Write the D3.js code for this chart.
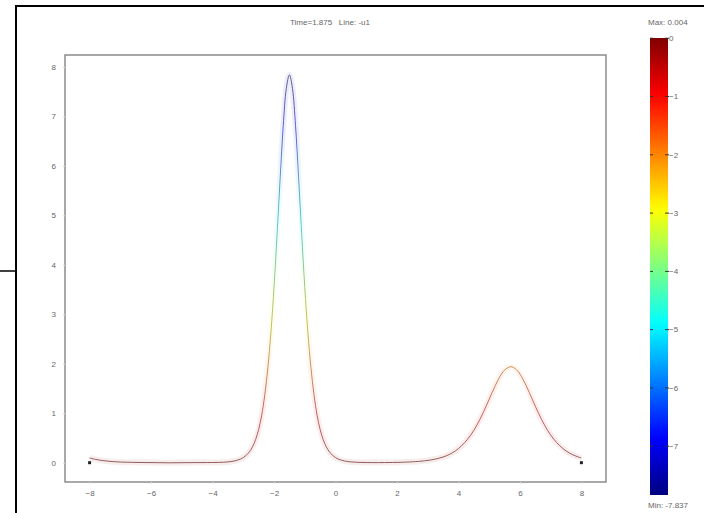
<!DOCTYPE html>
<html>
<head>
<meta charset="utf-8">
<script src="https://cdn.jsdelivr.net/npm/d3@7"></script>
<style>
  html, body { margin: 0; padding: 0; background: #fff; }
  svg { display: block; font-family: "Liberation Sans", Arial, sans-serif; }
</style>
</head>
<body>
<svg id="chart" width="704" height="513"></svg>
<script>
// ---- data ----
const xValues = [-8.0,-7.8,-7.6,-7.4,-7.2,-7.0,-6.6,-6.2,-5.8,-5.4,-5.0,-4.6,-4.2,-3.8,-3.5,-3.3,-3.1,-3.0,-2.9,-2.8,-2.7,-2.6,-2.5,-2.4,-2.3,-2.2,-2.1,-2.0,-1.9,-1.8,-1.7,-1.6,-1.5,-1.4,-1.3,-1.2,-1.1,-1.0,-0.9,-0.8,-0.7,-0.6,-0.5,-0.4,-0.3,-0.2,-0.1,0.0,0.1,0.3,0.5,0.8,1.2,1.6,2.1,2.5,2.7,2.9,3.1,3.3,3.5,3.7,3.9,4.1,4.3,4.5,4.7,4.9,5.1,5.3,5.5,5.7,5.9,6.1,6.3,6.5,6.7,6.9,7.1,7.3,7.5,7.7,7.9,8.0];
const uValues = [0.096,0.066,0.045,0.031,0.021,0.014,0.007,0.003,0.001,-0.002,0.000,0.002,0.003,0.006,0.016,0.034,0.071,0.104,0.152,0.221,0.321,0.466,0.671,0.962,1.377,1.926,2.644,3.549,4.618,5.756,6.810,7.564,7.837,7.564,6.810,5.756,4.618,3.549,2.644,1.926,1.377,0.962,0.671,0.466,0.321,0.221,0.152,0.104,0.071,0.034,0.016,0.006,0.002,0.003,0.008,0.018,0.026,0.038,0.055,0.080,0.115,0.166,0.238,0.341,0.477,0.654,0.878,1.143,1.424,1.685,1.872,1.940,1.872,1.685,1.424,1.143,0.878,0.654,0.477,0.341,0.238,0.166,0.115,0.096];
const xTicks = [-8,-6,-4,-2,0,2,4,6,8];
const yTicks = [0,1,2,3,4,5,6,7,8];
const cbTicks = [0,-1,-2,-3,-4,-5,-6,-7];
const cbMax = 0.004, cbMin = -7.837;
const endMarkers = [[-8,0],[8,0]];
const titleText = "Time=1.875   Line: -u1";

// ---- setup ----
const svg = d3.select("#chart");
const x = d3.scaleLinear().domain([-8.8, 8.8]).range([65, 606]);
const y = d3.scaleLinear().domain([-0.39, 8.24]).range([482, 55]);
const cb = d3.scaleLinear().domain([cbMax, cbMin]).range([38, 495]);

// jet colormap
function jet(t) {
  const r = Math.max(0, Math.min(1, 1.5 - Math.abs(4*t - 3)));
  const g = Math.max(0, Math.min(1, 1.5 - Math.abs(4*t - 2)));
  const b = Math.max(0, Math.min(1, 1.5 - Math.abs(4*t - 1)));
  return d3.rgb(r*255, g*255, b*255);
}
const tOf = v => (v - cbMin) / (cbMax - cbMin);

// outer window frame
svg.append("line").attr("x1", 16).attr("x2", 704).attr("y1", 6).attr("y2", 6)
  .attr("stroke", "#000").attr("stroke-width", 2);
svg.append("line").attr("x1", 16).attr("x2", 16).attr("y1", 5).attr("y2", 513)
  .attr("stroke", "#000").attr("stroke-width", 2);
svg.append("line").attr("x1", 0).attr("x2", 16).attr("y1", 271).attr("y2", 271)
  .attr("stroke", "#000").attr("stroke-width", 1.5);

// gradients
const defs = svg.append("defs");
function makeGrad(id, mix, grey) {
  const g = defs.append("linearGradient").attr("id", id)
    .attr("gradientUnits", "userSpaceOnUse")
    .attr("x1", 0).attr("x2", 0)
    .attr("y1", y(0)).attr("y2", y(7.837));
  d3.range(0, 1.0001, 0.05).forEach(s => {
    const val = -7.837 * s;           // line value -u1
    const c = jet(tOf(val));
    const col = d3.interpolateRgb(c, grey)(mix);
    g.append("stop").attr("offset", s).attr("stop-color", col);
  });
}
makeGrad("lineGrad", 0.55, "#8a8a8a");
makeGrad("haloGrad", 0.0, "#ffffff");

// colorbar gradient (vertical, top = max)
const cg = defs.append("linearGradient").attr("id", "cbGrad")
  .attr("x1", 0).attr("x2", 0).attr("y1", 0).attr("y2", 1);
d3.range(0, 1.0001, 0.02).forEach(s => {
  const val = cbMax + (cbMin - cbMax) * s;
  cg.append("stop").attr("offset", s).attr("stop-color", jet(tOf(val)));
});

// plot frame
svg.append("rect").attr("x", x(-8.8)).attr("y", y(8.24))
  .attr("width", x(8.8) - x(-8.8)).attr("height", y(-0.39) - y(8.24))
  .attr("fill", "none").attr("stroke", "#8c8c8c").attr("stroke-width", 1.5);

// axes
const xAxis = d3.axisBottom(x).tickValues(xTicks).tickSize(2).tickPadding(6).tickFormat(d3.format("d"));
const gx = svg.append("g").attr("transform", `translate(0,${y(-0.39)})`).call(xAxis);
const yAxis = d3.axisLeft(y).tickValues(yTicks).tickSize(2).tickPadding(7).tickFormat(d3.format("d"));
const gy = svg.append("g").attr("transform", `translate(${x(-8.8)},0)`).call(yAxis);
[gx, gy].forEach(g => {
  g.select(".domain").remove();
  g.selectAll(".tick line").attr("stroke", "#dddddd");
  g.selectAll(".tick text").attr("fill", "#666").attr("font-size", 8)
    .attr("font-family", "Liberation Sans, Arial, sans-serif");
});

// line
const pts = xValues.map((xv, i) => [xv, uValues[i]]);
const lineGen = d3.line().x(d => x(d[0])).y(d => y(d[1])).curve(d3.curveCatmullRom.alpha(0.5));
svg.append("path").attr("d", lineGen(pts)).attr("fill", "none")
  .attr("stroke", "url(#haloGrad)").attr("stroke-width", 6).attr("stroke-opacity", 0.07);
svg.append("path").attr("d", lineGen(pts)).attr("fill", "none")
  .attr("stroke", "url(#lineGrad)").attr("stroke-width", 1).attr("stroke-opacity", 0.9);

// end markers
svg.selectAll("rect.mk").data(endMarkers).enter().append("rect").attr("class", "mk")
  .attr("x", d => x(d[0]) - 1.5).attr("y", d => y(d[1]) - 1.5)
  .attr("width", 3).attr("height", 3).attr("fill", "#222");

// title
svg.append("text").attr("x", 330).attr("y", 25).attr("text-anchor", "middle")
  .attr("font-size", 8).attr("fill", "#666").attr("xml:space", "preserve").text(titleText);

// colorbar
const cbX = 650, cbW = 18;
svg.append("rect").attr("x", cbX).attr("y", cb(cbMax)).attr("width", cbW)
  .attr("height", cb(cbMin) - cb(cbMax)).attr("fill", "url(#cbGrad)");
const cbt = svg.selectAll("g.cbt").data(cbTicks).enter().append("g").attr("class", "cbt")
  .attr("transform", d => `translate(0,${cb(d)})`);
cbt.append("line").attr("x1", cbX).attr("x2", cbX + 3).attr("stroke", "#333").attr("stroke-width", 1);
cbt.append("line").attr("x1", cbX + cbW - 3).attr("x2", cbX + cbW + 1).attr("stroke", "#333").attr("stroke-width", 1);
cbt.append("text").attr("x", cbX + cbW + 1).attr("dy", "0.35em")
  .attr("font-size", 8).attr("fill", "#666")
  .text(d => d === 0 ? "0" : d3.format("d")(d).replace("-", "\u2212"));

svg.append("text").attr("x", 648).attr("y", 25).attr("font-size", 8).attr("fill", "#666")
  .text("Max: " + cbMax.toFixed(3));
svg.append("text").attr("x", 648).attr("y", 508).attr("font-size", 8).attr("fill", "#666")
  .text("Min: " + cbMin.toFixed(3));
</script>
</body>
</html>
